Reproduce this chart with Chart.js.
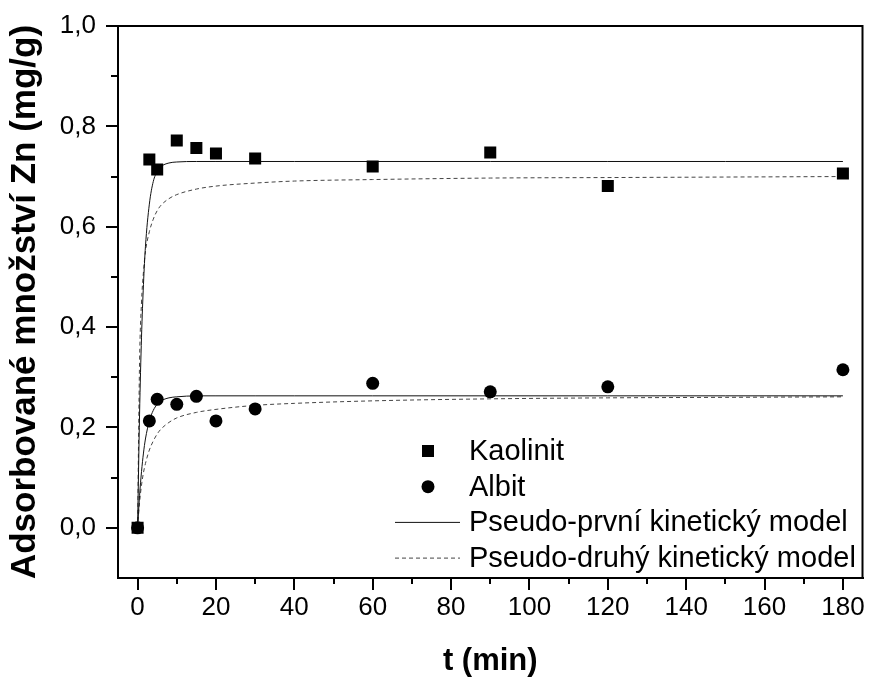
<!DOCTYPE html>
<html>
<head>
<meta charset="utf-8">
<script src="https://cdn.jsdelivr.net/npm/chart.js@4.4.1/dist/chart.umd.min.js"></script>
<style>
    html, body { margin: 0; padding: 0; background: #fff; }
    canvas { display: block; }
</style>
</head>
<body>
<canvas id="chart" width="871" height="677"></canvas>
<script>
// measured points
var tData = [0, 3, 5, 10, 15, 20, 30, 60, 90, 120, 180];
var kaolinit = [0, 0.734, 0.714, 0.772, 0.757, 0.746, 0.736, 0.720, 0.748, 0.681, 0.706];
var albit = [0, 0.213, 0.256, 0.246, 0.262, 0.213, 0.237, 0.288, 0.271, 0.281, 0.315];

// model curves
var tModel = [0, 0.5, 1, 1.5, 2, 3, 4, 5, 6, 8, 10, 15, 20, 30, 40, 60, 90, 120, 150, 180];
var kaolinitPrvni = [0, 0.225, 0.38, 0.485, 0.56, 0.645, 0.69, 0.71, 0.72, 0.727, 0.729, 0.73, 0.73, 0.73, 0.73, 0.73, 0.73, 0.73, 0.73, 0.73];
var kaolinitDruhy = [0, 0.33, 0.45, 0.51, 0.55, 0.59, 0.615, 0.632, 0.643, 0.656, 0.664, 0.675, 0.681, 0.687, 0.691, 0.694, 0.697, 0.698, 0.699, 0.70];
var albitPrvni = [0, 0.064, 0.112, 0.149, 0.177, 0.213, 0.234, 0.246, 0.253, 0.259, 0.261, 0.263, 0.263, 0.263, 0.263, 0.263, 0.263, 0.263, 0.263, 0.263];
var albitDruhy = [0, 0.05, 0.085, 0.11, 0.128, 0.155, 0.173, 0.187, 0.197, 0.21, 0.219, 0.23, 0.236, 0.244, 0.248, 0.253, 0.257, 0.259, 0.26, 0.261];

var xTicks = [0, 20, 40, 60, 80, 100, 120, 140, 160, 180];
var xMinor = [10, 30, 50, 70, 90, 110, 130, 150, 170];
var yTicks = [0, 0.2, 0.4, 0.6, 0.8, 1.0];
var yMinor = [0.1, 0.3, 0.5, 0.7, 0.9];

var legendLabels = ['Kaolinit', 'Albit', 'Pseudo-první kinetický model', 'Pseudo-druhý kinetický model'];

var FONT = '"Liberation Sans", Arial, sans-serif';

function pts(xs, ys) {
    return xs.map(function (x, i) { return { x: x, y: ys[i] }; });
}

function modelLine(data, dashed) {
    return {
        type: 'line',
        data: pts(tModel, data),
        borderColor: dashed ? '#444' : '#111',
        borderWidth: 1,
        borderDash: dashed ? [4, 3] : [],
        pointRadius: 0,
        fill: false,
        cubicInterpolationMode: 'monotone'
    };
}

// frame, minor ticks and the legend inside the plot
var extras = {
    id: 'extras',
    afterDraw: function (chart) {
        var ctx = chart.ctx;
        var a = chart.chartArea;
        var xs = chart.scales.x, ys = chart.scales.y;
        ctx.save();
        ctx.strokeStyle = '#000';
        ctx.lineWidth = 2;
        ctx.beginPath();
        ctx.moveTo(a.left - 1, a.top);
        ctx.lineTo(a.right, a.top);
        ctx.lineTo(a.right, a.bottom);
        ctx.stroke();

        ctx.beginPath();
        xMinor.forEach(function (v) {
            var px = Math.round(xs.getPixelForValue(v));
            ctx.moveTo(px, a.bottom);
            ctx.lineTo(px, a.bottom + 6);
        });
        yMinor.forEach(function (v) {
            var py = Math.round(ys.getPixelForValue(v));
            ctx.moveTo(a.left, py);
            ctx.lineTo(a.left - 7, py);
        });
        ctx.stroke();

        // legend
        var mx = a.left + 310, tx = a.left + 351;
        var rowY = function (i) { return a.bottom - 127 + i * 35.7; };
        ctx.fillStyle = '#000';
        ctx.fillRect(mx - 6, rowY(0) - 6, 12, 12);
        ctx.beginPath();
        ctx.arc(mx, rowY(1), 6.5, 0, Math.PI * 2);
        ctx.fill();
        ctx.lineWidth = 1;
        ctx.strokeStyle = '#111';
        ctx.beginPath();
        ctx.moveTo(mx - 33, rowY(2));
        ctx.lineTo(mx + 32, rowY(2));
        ctx.stroke();
        ctx.strokeStyle = '#444';
        ctx.setLineDash([4, 3]);
        ctx.beginPath();
        ctx.moveTo(mx - 33, rowY(3));
        ctx.lineTo(mx + 32, rowY(3));
        ctx.stroke();
        ctx.setLineDash([]);

        ctx.font = '29px ' + FONT;
        ctx.textBaseline = 'middle';
        ctx.textAlign = 'left';
        legendLabels.forEach(function (lbl, i) {
            ctx.fillText(lbl, tx, rowY(i) + 1);
        });
        ctx.restore();
    }
};

var config = {
    type: 'scatter',
    data: {
        datasets: [
            {
                label: legendLabels[0],
                data: pts(tData, kaolinit),
                pointStyle: 'rect',
                pointRadius: 8.5,
                backgroundColor: '#000',
                borderWidth: 0
            },
            {
                label: legendLabels[1],
                data: pts(tData, albit),
                pointStyle: 'circle',
                pointRadius: 6.5,
                backgroundColor: '#000',
                borderWidth: 0
            },
            modelLine(kaolinitPrvni, false),
            modelLine(albitPrvni, false),
            modelLine(kaolinitDruhy, true),
            modelLine(albitDruhy, true)
        ]
    },
    options: {
        responsive: false,
        animation: false,
        devicePixelRatio: 1,
        layout: { padding: { top: 26, right: 5, left: 0, bottom: 0 } },
        plugins: {
            legend: { display: false },
            tooltip: { enabled: false }
        },
        scales: {
            x: {
                type: 'linear',
                min: -5,
                max: 185,
                afterBuildTicks: function (s) { s.ticks = xTicks.map(function (v) { return { value: v }; }); },
                afterFit: function (s) { s.height = 99; },
                grid: { drawOnChartArea: false, drawTicks: true, tickLength: 12, color: '#000', lineWidth: 2 },
                border: { display: true, color: '#000', width: 2 },
                ticks: { color: '#000', padding: 2, maxRotation: 0, font: { family: FONT, size: 26 } },
                title: { display: true, text: 't (min)', color: '#000', padding: 0, font: { family: FONT, size: 31, weight: 'bold', lineHeight: 1 } }
            },
            y: {
                type: 'linear',
                min: -0.1,
                max: 1.0,
                afterBuildTicks: function (s) { s.ticks = yTicks.map(function (v) { return { value: v }; }); },
                afterFit: function (s) { s.width = 118; },
                grid: { drawOnChartArea: false, drawTicks: true, tickLength: 12, color: '#000', lineWidth: 2 },
                border: { display: true, color: '#000', width: 2 },
                ticks: {
                    color: '#000', padding: 10, font: { family: FONT, size: 26 },
                    callback: function (v) { return v.toFixed(1).replace('.', ','); }
                },
                title: { display: true, text: 'Adsorbované množství Zn (mg/g)', color: '#000', padding: 0, font: { family: FONT, size: 35, weight: 'bold', lineHeight: 1.45 } }
            }
        }
    },
    plugins: [extras]
};

var myChart = new Chart(document.getElementById('chart'), config);
</script>
</body>
</html>
